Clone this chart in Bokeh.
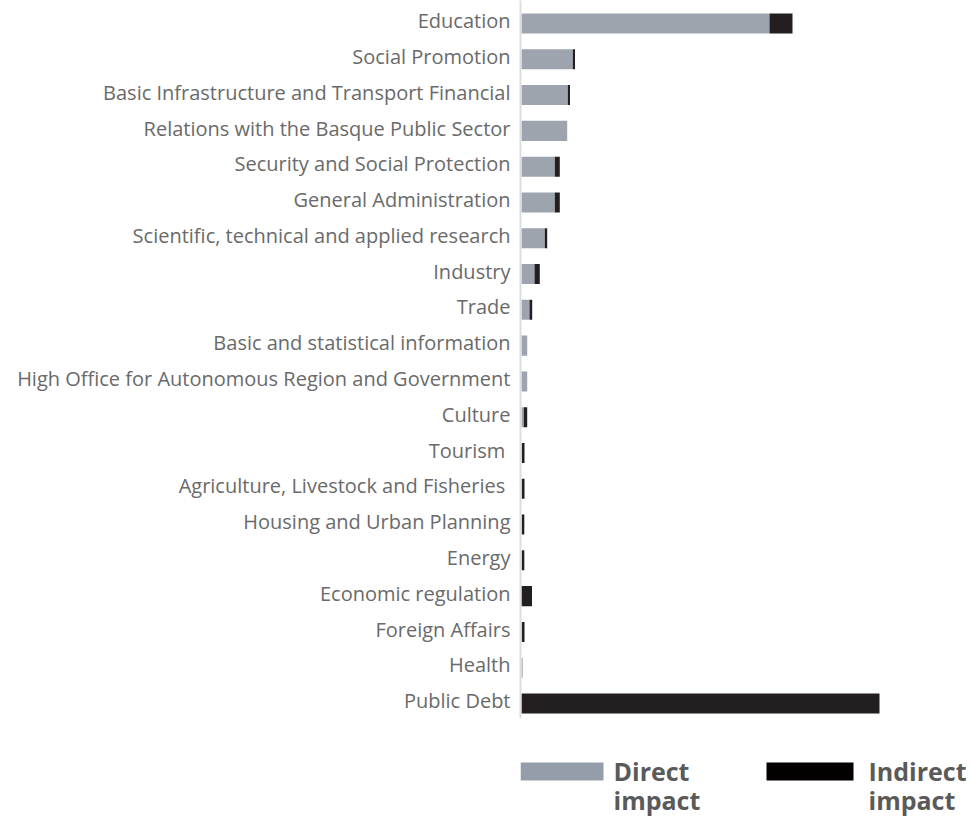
from bokeh.plotting import figure
from bokeh.models import Range1d, FixedTicker, ColumnDataSource
from bokeh.layouts import column
from bokeh.core.properties import value
from bokeh.embed import file_html
from bokeh.resources import INLINE

categories = [
    "Education",
    "Social Promotion",
    "Basic Infrastructure and Transport Financial",
    "Relations with the Basque Public Sector",
    "Security and Social Protection",
    "General Administration",
    "Scientific, technical and applied research",
    "Industry",
    "Trade",
    "Basic and statistical information",
    "High Office for Autonomous Region and Government",
    "Culture",
    "Tourism\u00a0",
    "Agriculture, Livestock and Fisheries\u00a0",
    "Housing and Urban Planning",
    "Energy",
    "Economic regulation",
    "Foreign Affairs",
    "Health",
    "Public Debt",
]
direct_impact = [248, 51.3, 46.3, 45.7, 33.3, 33.3, 23.3, 13, 8, 5.7, 5.7, 2.3,
                 0.4, 0.4, 0.4, 0.4, 0, 0.4, 1.2, 0]
indirect_impact = [23, 2.2, 2.2, 0, 5, 5, 2.4, 5.3, 2.7, 0, 0, 3.4,
                   2.6, 2.6, 2.4, 2.4, 10.5, 2.6, 0, 358]
legend_line1 = ["Direct", "Indirect"]
legend_line2 = ["impact", "impact"]

GRAY = "#9ea4ae"
BLACK = "#231f20"
LABEL = "#6a6a6a"
FONT = "Open Sans"

n = len(categories)
ypos = [n - 1 - i for i in range(n)]
left2 = list(direct_impact)
right2 = [d + k for d, k in zip(direct_impact, indirect_impact)]
src = ColumnDataSource(dict(y=ypos, d=direct_impact, l2=left2, r2=right2))

W = 970
H_MAIN = 718
H_LEG = 100
frame_left = 520
px_per_row = 35.79
top_val = (n - 1) + 23 / px_per_row
bot_val = top_val - H_MAIN / px_per_row

p = figure(width=W, height=H_MAIN, output_backend="svg", toolbar_location=None,
           x_range=Range1d(-1, W - frame_left - 1),
           y_range=Range1d(bot_val, top_val),
           min_border_left=frame_left, min_border_right=0,
           min_border_top=0, min_border_bottom=0)
p.outline_line_color = None
p.grid.visible = False
p.xaxis.visible = False

p.hbar(y="y", left=0, right="d", height=0.56, source=src,
       fill_color=GRAY, line_color=None)
p.hbar(y="y", left="l2", right="r2", height=0.56, source=src,
       fill_color=BLACK, line_color=None)

label_shift = 0.08  # labels sit slightly above bar centres
tick_pos = [y + label_shift for y in ypos]
ya = p.yaxis[0]
ya.ticker = FixedTicker(ticks=tick_pos)
ya.major_label_overrides = {t: c for t, c in zip(tick_pos, categories)}
ya.major_tick_line_color = None
ya.minor_tick_line_color = None
ya.axis_line_color = "#dddddd"
ya.axis_line_width = 2
ya.major_label_standoff = 4
ya.major_label_text_font = FONT
ya.major_label_text_font_size = "20px"
ya.major_label_text_color = LABEL

# legend figure (frame aligned with the main one; x in page pixels)
lg = figure(width=W, height=H_LEG, output_backend="svg", toolbar_location=None,
            x_range=Range1d(frame_left, W), y_range=Range1d(H_LEG, 0),
            min_border_left=frame_left, min_border_right=0, min_border_top=0,
            min_border_bottom=0)
lg.outline_line_color = None
lg.grid.visible = False
lg.axis.visible = False

sw_x = [520, 766]
sw_w = [83, 87]
lg.quad(left=sw_x, right=[a + b for a, b in zip(sw_x, sw_w)], top=[44, 44],
        bottom=[62, 62], fill_color=["#959dab", "#050000"], line_color=None)
for txt, yy in ((legend_line1, 35), (legend_line2, 64)):
    lg.text(x=[613, 868], y=[yy, yy], text=txt,
            text_font=value(FONT), text_font_style="bold",
            text_font_size="25px", text_color="#5a5a5a",
            text_baseline="top")

layout = column(p, lg, spacing=0)
open("out.html", "w").write(file_html(layout, INLINE))
